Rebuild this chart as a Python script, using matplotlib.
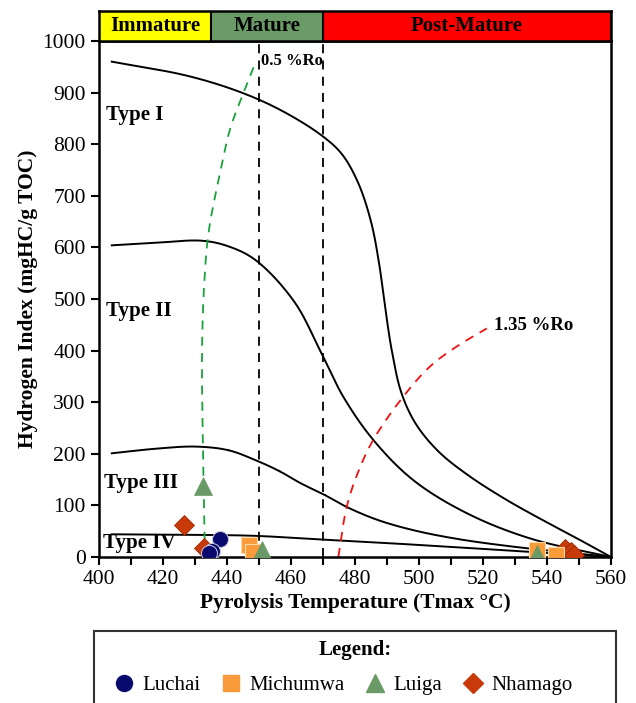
import numpy as np
import matplotlib
matplotlib.use("Agg")
import matplotlib.pyplot as plt
from matplotlib.ticker import MultipleLocator
from matplotlib.patches import Rectangle
from matplotlib.lines import Line2D

plt.rcParams['font.family'] = ['Liberation Serif', 'DejaVu Serif']

# kerogen type curves (Tmax, HI)
type1_t = [404, 428, 445, 458, 470, 476, 481, 485, 487.5, 489.5, 491.5, 494.5, 499, 506, 515, 527, 540, 550, 560]
type1_hi = [960, 932, 899, 862, 815, 780, 725, 650, 570, 480, 400, 318, 258, 205, 160, 112, 67, 34, 0]
type2_t = [404, 418, 432, 440, 448.8, 461, 469.5, 476.3, 485.7, 498.2, 514.9, 534.7, 560]
type2_hi = [604, 609, 613, 603, 576, 495, 395, 311, 227, 149, 85, 36, 0]
type3_t = [404, 418, 430, 440.4, 448.8, 456.5, 463, 470.6, 477.4, 487, 498.2, 512, 529.5, 560]
type3_hi = [201, 210, 214, 207, 188, 166, 143, 120, 97, 72, 52, 35, 20, 0]
type4_t = [404, 430, 448.8, 469.1, 490, 508.7, 534.7, 560]
type4_hi = [44, 43, 41, 34, 27, 20, 10, 0]

# vitrinite reflectance iso-lines
ro05_t = [433.1, 432.5, 432.2, 432.8, 434.2, 437.8, 440.9, 445.1, 449]
ro05_hi = [0, 200, 395, 520, 627, 744, 828, 899, 960]
ro135_t = [474.8, 477.4, 481, 485.7, 495.1, 503.4, 511.8, 521.2]
ro135_hi = [0, 97, 165, 227, 311, 369, 408, 443]

# samples
luchai_t = [437.8, 435.2, 434.5]
luchai_hi = [35, 12, 7]
michumwa_t = [447, 448.2, 536.8, 542.8]
michumwa_hi = [23, 10, 14, 3]
luiga_t = [432.6, 450.8, 537]
luiga_hi = [138, 14, 5]
nhamago_t = [426.7, 432.8, 545.5, 547.5, 548.5]
nhamago_hi = [62, 17, 15, 10, 3]

stages = ['Immature', 'Mature', 'Post-Mature']
stage_edges = [400, 435, 470, 560]
stage_colors = ['#FFFF00', '#6A9A66', '#FF0000']


def smooth(xs, ys, n=30):
    # centripetal catmull-rom through the read points, just for drawing
    p = np.column_stack([np.asarray(xs, float) / 160.0, np.asarray(ys, float) / 1000.0])
    p = np.vstack([2 * p[0] - p[1], p, 2 * p[-1] - p[-2]])
    out = []
    for i in range(1, len(p) - 2):
        p0, p1, p2, p3 = p[i - 1], p[i], p[i + 1], p[i + 2]
        t0 = 0.0
        t1 = t0 + np.linalg.norm(p1 - p0) ** 0.5
        t2 = t1 + np.linalg.norm(p2 - p1) ** 0.5
        t3 = t2 + np.linalg.norm(p3 - p2) ** 0.5
        t = np.linspace(t1, t2, n)[:, None]
        a1 = (t1 - t) / (t1 - t0) * p0 + (t - t0) / (t1 - t0) * p1
        a2 = (t2 - t) / (t2 - t1) * p1 + (t - t1) / (t2 - t1) * p2
        a3 = (t3 - t) / (t3 - t2) * p2 + (t - t2) / (t3 - t2) * p3
        b1 = (t2 - t) / (t2 - t0) * a1 + (t - t0) / (t2 - t0) * a2
        b2 = (t3 - t) / (t3 - t1) * a2 + (t - t1) / (t3 - t1) * a3
        out.append((t2 - t) / (t2 - t1) * b1 + (t - t1) / (t2 - t1) * b2)
    c = np.vstack(out)
    return c[:, 0] * 160.0, c[:, 1] * 1000.0


W, H = 636, 703
fig = plt.figure(figsize=(W / 100, H / 100), dpi=100)
ax = fig.add_axes([99 / W, 1 - 557 / H, 512 / W, 516 / H])

for t, hi in [(type1_t, type1_hi), (type2_t, type2_hi), (type3_t, type3_hi), (type4_t, type4_hi)]:
    ax.plot(*smooth(t, hi), color='black', lw=1.4, zorder=2)

ax.plot(*smooth(ro05_t, ro05_hi), color='#1AA33A', lw=1.3, ls=(0, (5, 4)), zorder=2)
ax.plot(*smooth(ro135_t, ro135_hi), color='#EE1111', lw=1.3, ls=(0, (5, 4)), zorder=2)
for xv in [450, 470]:
    ax.axvline(xv, color='black', lw=1.3, ls=(0, (5, 4)), zorder=1)

ax.text(450.6, 962, '0.5 %Ro', fontsize=12, fontweight='bold', va='center', ha='left')
ax.text(523.5, 449, '1.35 %Ro', fontsize=13.5, fontweight='bold', va='center', ha='left')
ax.text(402.3, 857, 'Type I', fontsize=15, fontweight='bold', va='center')
ax.text(402.3, 477, 'Type II', fontsize=15, fontweight='bold', va='center')
ax.text(401.6, 143, 'Type III', fontsize=15, fontweight='bold', va='center')
ax.text(401.3, 27, 'Type IV', fontsize=15, fontweight='bold', va='center')

ax.plot(nhamago_t, nhamago_hi, ls='none', marker='D', ms=10, color='#C93A0A', mec='#A02800', mew=0.6, zorder=4)
ax.plot(michumwa_t, michumwa_hi, ls='none', marker='s', ms=11, color='#F99B3A', mec='#FDD9A8', mew=0.8, zorder=4)
ax.plot(luiga_t, luiga_hi, ls='none', marker='^', ms=13, color='#6A9A66', mec='#6A9A66', mew=0.5, zorder=5)
ax.plot(luchai_t, luchai_hi, ls='none', marker='o', ms=11.5, color='#0A0A6E', mec='#C8C8E0', mew=0.7, zorder=5)

ax.set_xlim(400, 560)
ax.set_ylim(0, 1000)
ax.xaxis.set_major_locator(MultipleLocator(20))
ax.xaxis.set_minor_locator(MultipleLocator(10))
ax.yaxis.set_major_locator(MultipleLocator(100))
ax.tick_params(axis='both', which='both', direction='out', length=6, width=1.5, labelsize=15.5)
for s in ax.spines.values():
    s.set_linewidth(1.8)
ax.set_xlabel('Pyrolysis Temperature (Tmax °C)', fontsize=15.5, fontweight='bold', labelpad=3)
ax.set_ylabel('Hydrogen Index (mgHC/g TOC)', fontsize=15.5, fontweight='bold', labelpad=3)

# maturity stage bar
bar = fig.add_axes([99 / W, 1 - 41 / H, 512 / W, 30 / H])
bar.set_xlim(400, 560)
bar.set_ylim(0, 1)
for name, x0, x1, c in zip(stages, stage_edges[:-1], stage_edges[1:], stage_colors):
    bar.axvspan(x0, x1, color=c, zorder=0)
    bar.axvline(x1, color='black', lw=1.5)
    bar.text((x0 + x1) / 2, 0.5, name, ha='center', va='center', fontsize=15, fontweight='bold')
bar.set_xticks([])
bar.set_yticks([])
for s in bar.spines.values():
    s.set_linewidth(1.8)

# legend panel
fig.patches.append(Rectangle((94 / W, -0.05), 522 / W, 0.05 + 1 - 631 / H, transform=fig.transFigure,
                             fill=False, edgecolor='#333333', lw=1.5))
fig.text(355 / W, 1 - 650 / H, 'Legend:', ha='center', va='center', fontsize=15, fontweight='bold')
handles = [
    Line2D([], [], ls='none', marker='o', ms=11.5, color='#0A0A6E', mec='#0A0A6E'),
    Line2D([], [], ls='none', marker='s', ms=11, color='#F99B3A', mec='#F99B3A'),
    Line2D([], [], ls='none', marker='^', ms=13, color='#6A9A66', mec='#6A9A66'),
    Line2D([], [], ls='none', marker='D', ms=10, color='#C93A0A', mec='#C93A0A'),
]
leg = fig.legend(handles, ['Luchai', 'Michumwa', 'Luiga', 'Nhamago'], ncol=4, frameon=False,
                 loc='center', bbox_to_anchor=(342 / W, 1 - 685 / H),
                 fontsize=15, handletextpad=0.3, columnspacing=0.85, handlelength=1.2, borderpad=0.2)

fig.savefig('out.png', dpi=100)
